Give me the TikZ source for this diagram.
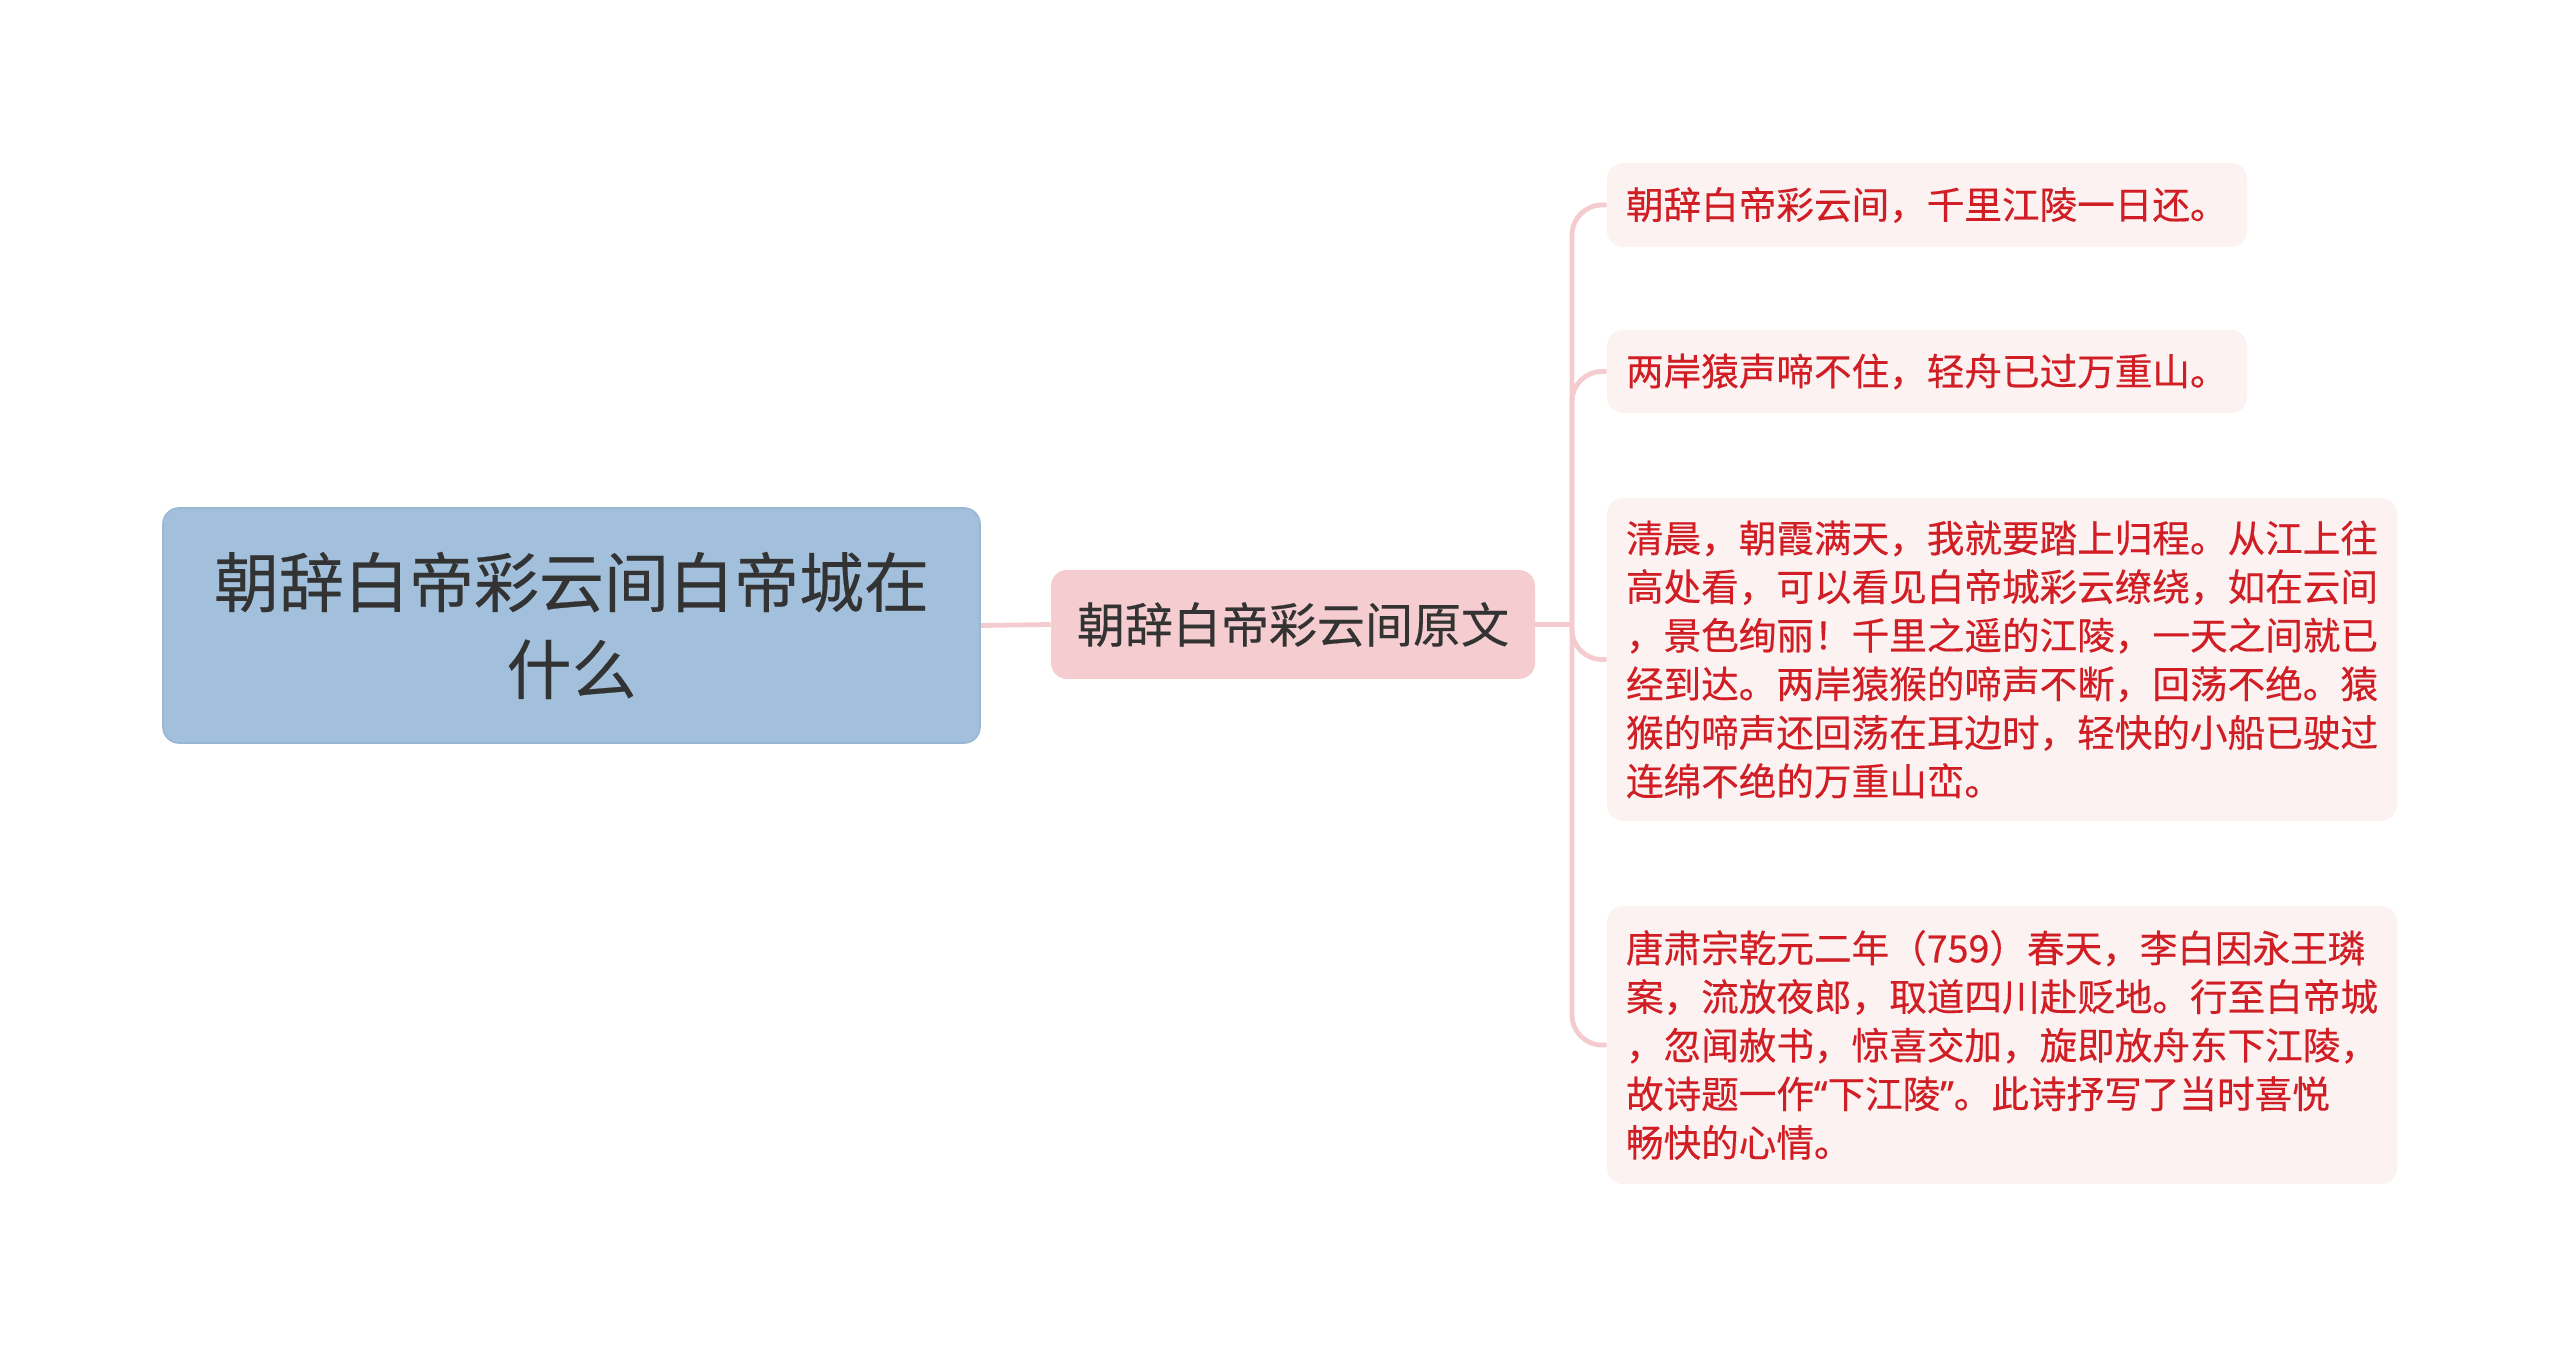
\documentclass[tikz,border=0pt]{standalone}
\usepackage{fontspec}
\setmainfont[FakeBold=0.35]{Noto Sans CJK SC}
\newfontfamily\latinq[FakeBold=0.35]{Noto Sans}
\definecolor{rootc}{HTML}{A2C0DC}
\definecolor{rootd}{HTML}{98B7D4}
\definecolor{midc}{HTML}{F5CCCF}
\definecolor{linkc}{HTML}{F4CBCE}
\definecolor{leafc}{HTML}{FCF2F2}
\definecolor{leaft}{HTML}{D01E24}
\definecolor{darkt}{HTML}{333333}
\begin{document}
\begin{tikzpicture}[x=0.5pt,y=-0.5pt,
  conn/.style={draw=linkc, line width=2.4pt},
  rootbox/.style={fill=rootc, draw=rootd, line width=0.8pt, rounded corners=8pt,
    minimum width=408.5pt, minimum height=117.5pt, inner sep=0pt, align=center,
    text=darkt, font=\fontsize{32.5pt}{43.5pt}\selectfont},
  midbox/.style={fill=midc, rounded corners=8pt, minimum width=242pt,
    minimum height=54.5pt, inner sep=0pt, text=darkt,
    font=\fontsize{24pt}{30pt}\selectfont},
  leafbox/.style={fill=leafc, rounded corners=8pt, inner xsep=9.5pt, inner ysep=0pt,
    align=left, text=leaft, font=\fontsize{18.8pt}{24.3pt}\selectfont},
]
\useasboundingbox (0,0) rectangle (2560,1347);

\node[rootbox] (root) at (571.5,625.5) {朝辞白帝彩云间白帝城在\\什么};
\node[midbox] (mid) at (1293,624.5) {朝辞白帝彩云间原文};

\node[leafbox, text width=301pt, minimum height=42pt] (c1) at (1927,205)
  {朝辞白帝彩云间，千里江陵一日还。};
\node[leafbox, text width=301pt, minimum height=41.5pt] (c2) at (1927,371.5)
  {两岸猿声啼不住，轻舟已过万重山。};
\node[leafbox, text width=376pt, minimum height=161.5pt] (c3) at (2002,659.5)
  {清晨，朝霞满天，我就要踏上归程。从江上往\\
   高处看，可以看见白帝城彩云缭绕，如在云间\\
   ，景色绚丽！千里之遥的江陵，一天之间就已\\
   经到达。两岸猿猴的啼声不断，回荡不绝。猿\\
   猴的啼声还回荡在耳边时，轻快的小船已驶过\\
   连绵不绝的万重山峦。};
\node[leafbox, text width=376pt, minimum height=139pt] (c4) at (2002,1045)
  {唐肃宗乾元二年（759）春天，李白因永王璘\\
   案，流放夜郎，取道四川赴贬地。行至白帝城\\
   ，忽闻赦书，惊喜交加，旋即放舟东下江陵，\\
   故诗题一作{\latinq “}下江陵{\latinq ”}。此诗抒写了当时喜悦\\
   畅快的心情。};

\coordinate (T) at (1572,624.5);
\draw[conn] (root.east) -- (mid.west);
\draw[conn] (mid.east) -- (T);
\foreach \c in {c1,c2,c3,c4}
  \draw[conn, rounded corners=15pt] (T) |- (\c.west);
\end{tikzpicture}
\end{document}
